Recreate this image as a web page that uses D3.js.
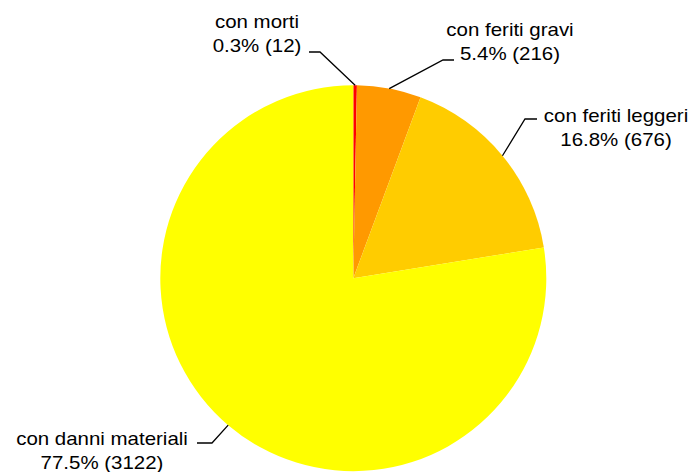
<!DOCTYPE html>
<html>
<head>
<meta charset="utf-8">
<script src="https://cdn.jsdelivr.net/npm/d3@7"></script>
<style>
  html, body { margin: 0; padding: 0; background: #fff; }
  svg { display: block; }
  text { font-family: "Liberation Sans", Arial, sans-serif; fill: #000; }
</style>
</head>
<body>
<div id="chart"></div>
<script>
// categorie e valori (numero di incidenti)
const categories = ["con morti", "con feriti gravi", "con feriti leggeri", "con danni materiali"];
const counts = [12, 216, 676, 3122];
const colors = ["#ff0000", "#ff9900", "#ffcc00", "#ffff00"];

// posizione etichette: gomito della linea, fine orizzontale, centro testo
const labelLayout = [
  { elbow: [320, 52], end: 309, tx: 257, ty: 28 },
  { elbow: [443, 60], end: 454, tx: 510, ty: 36 },
  { elbow: [525, 119], end: 537, tx: 616, ty: 122 },
  { elbow: [212, 443], end: 197, tx: 102, ty: 445 }
];

const width = 695, height = 472;
const cx = 353.3, cy = 278.2, r = 193;
const total = d3.sum(counts);

const svg = d3.select("#chart").append("svg")
  .attr("width", width)
  .attr("height", height);

const pie = d3.pie().sort(null).value(d => d)(counts);

const arc = d3.arc().innerRadius(0).outerRadius(r);
const edge = d3.arc().innerRadius(r).outerRadius(r);

const g = svg.append("g").attr("transform", `translate(${cx},${cy})`);

g.selectAll("path")
  .data(pie)
  .enter().append("path")
  .attr("d", arc)
  .attr("fill", (d, i) => colors[i]);

// linee guida
pie.forEach((d, i) => {
  const p = edge.centroid(d);
  const L = labelLayout[i];
  const pts = [[cx + p[0], cy + p[1]], L.elbow, [L.end, L.elbow[1]]];
  svg.append("path")
    .attr("d", d3.line()(pts))
    .attr("fill", "none")
    .attr("stroke", "#000")
    .attr("stroke-width", 1.3);

  const pct = (counts[i] / total * 100).toFixed(1) + "% (" + counts[i] + ")";
  [categories[i], pct].forEach((t, k) => {
    svg.append("text")
      .attr("transform", `translate(${L.tx},${L.ty + k * 23.5}) scale(1.1,1)`)
      .attr("text-anchor", "middle")
      .attr("font-size", 18.6)
      .text(t);
  });
});
</script>
</body>
</html>
